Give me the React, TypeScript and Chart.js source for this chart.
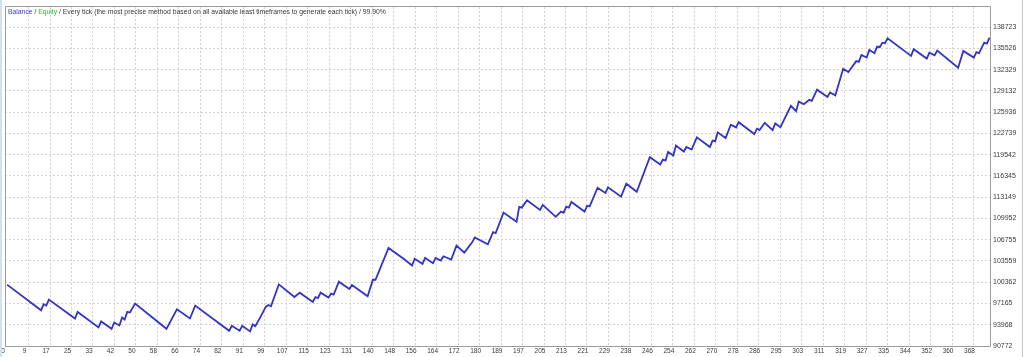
import React, { useEffect, useRef } from "react";
import { Chart, registerables } from "chart.js";

Chart.register(...registerables);

// Trade number (x) and account balance (y) at each visible turning point of the curve
const TRADE_INDEX = [
  0, 13, 14, 15, 16, 26, 27, 35, 36, 40, 41, 43, 44, 45, 46, 47, 49, 61, 65, 70,
  72, 85, 86, 89, 90, 93, 94, 95, 97, 99, 100, 101, 104, 110, 112, 117, 118, 119, 120, 123,
  124, 125, 127, 131, 132, 138, 140, 141, 146, 152, 155, 156, 159, 160, 163, 164, 166, 167, 170, 172,
  175, 178, 179, 184, 186, 187, 190, 195, 196, 197, 199, 204, 205, 210, 212, 213, 214, 215, 216, 221,
  222, 223, 226, 229, 230, 235, 237, 241, 246, 250, 251, 252, 253, 255, 256, 259, 260, 262, 264, 269,
  270, 271, 272, 275, 277, 279, 280, 286, 287, 288, 290, 293, 294, 296, 300, 302, 303, 305, 307, 308,
  310, 314, 315, 317, 320, 322, 325, 326, 327, 329, 330, 332, 333, 334, 335, 336, 337, 346, 347, 352,
  353, 355, 356, 364, 366, 370, 371, 372, 374, 375, 376,
];

const BALANCE = [
  100000, 96150, 97046, 96851, 97748, 94910, 95895, 93565, 94462, 93356, 94312, 93864, 95059, 94761, 95895, 95806, 97150, 93356, 96299, 94910,
  96851, 93057, 93805, 93057, 93805, 92968, 94013, 93760, 95149, 96643, 96942, 96747, 100034, 98136, 98794, 97389, 98136, 97987, 98794, 98046,
  98644, 98495, 100437, 99331, 99929, 98241, 100736, 100736, 105515, 103813, 102872, 103873, 103125, 104021, 103215, 104021, 103618, 104261, 103768, 105859,
  104814, 106352, 107099, 106053, 107906, 107756, 110833, 109445, 111685, 111580, 112686, 111236, 111984, 110191, 110983, 110789, 111730, 111580, 112432, 110983,
  111834, 111789, 114568, 113776, 114627, 113224, 115165, 113970, 119154, 118063, 118810, 118661, 119945, 119407, 120901, 120005, 120692, 120304, 122141, 120692,
  121648, 121543, 122888, 122036, 124038, 123635, 124426, 122634, 123440, 123231, 124337, 123231, 124233, 123680, 126876, 126069, 127518, 127115, 127773, 127624,
  129311, 128220, 128907, 128459, 132448, 131955, 133600, 133494, 134540, 134137, 135288, 134795, 135782, 135691, 136377, 136288, 137034, 134390, 135390, 133986,
  134882, 134494, 135182, 132597, 135137, 134137, 134945, 134795, 136377, 136228, 137124,
];

const X_TICK_LABELS = [
  "0", "9", "17", "25", "33", "42", "50", "58", "66", "74", "82", "91", "99", "107", "115", "123",
  "131", "140", "148", "156", "164", "172", "180", "189", "197", "205", "213", "221", "229", "238",
  "246", "254", "262", "270", "278", "286", "295", "303", "311", "319", "327", "335", "344", "352",
  "360", "368",
];

const Y_TICK_VALUES = [
  90772, 93968, 97165, 100362, 103559, 106755, 109952, 113149, 116345, 119542, 122739, 125936,
  129132, 132329, 135526, 138723,
];

const X_MIN = -0.8;
const X_MAX = 376.2;
const X_GRID_STEP = 8.22;
const Y_MIN = 90772;
const Y_MAX = 141711;

const framePlugin = {
  id: "frame",
  afterDraw(chart: any) {
    const { ctx, chartArea } = chart;
    const l = Math.round(chartArea.left) + 0.5;
    const t = Math.round(chartArea.top) - 0.5;
    const r = Math.round(chartArea.right) + 0.5;
    const b = Math.round(chartArea.bottom) + 0.5;
    ctx.save();
    ctx.strokeStyle = "#9c9c9c";
    ctx.lineWidth = 1;
    ctx.beginPath();
    ctx.moveTo(l, t);
    ctx.lineTo(r, t);
    ctx.lineTo(r, b);
    ctx.lineTo(l, b);
    ctx.closePath();
    ctx.stroke();
    ctx.restore();
  },
};

export default function App() {
  const canvasRef = useRef<HTMLCanvasElement | null>(null);

  useEffect(() => {
    document.body.style.margin = "0";
    const canvas = canvasRef.current;
    if (!canvas) return;
    const points = TRADE_INDEX.map((x, i) => ({ x, y: BALANCE[i] }));
    const chart = new Chart(canvas, {
      type: "line",
      data: {
        datasets: [
          {
            label: "Balance",
            data: points,
            borderColor: "#3333c4",
            borderWidth: 1.8,
            pointRadius: 0,
            tension: 0,
            fill: false,
          },
        ],
      },
      options: {
        animation: false,
        responsive: false,
        devicePixelRatio: 1,
        parsing: false as any,
        layout: { padding: { left: 5, top: 5, right: 0, bottom: 0 } },
        plugins: {
          legend: { display: false },
          title: { display: false },
          tooltip: { enabled: false },
        },
        scales: {
          x: {
            type: "linear",
            min: X_MIN,
            max: X_MAX,
            afterBuildTicks: (scale: any) => {
              scale.ticks = X_TICK_LABELS.map((_, k) => ({ value: k * X_GRID_STEP }));
            },
            afterFit: (scale: any) => {
              scale.height = 11;
            },
            grid: {
              color: (c: any) => (c.index === 0 ? "rgba(0,0,0,0)" : "#d2d2d2"),
              lineWidth: 1,
              drawTicks: false,
            },
            border: { display: false, dash: [2, 2] },
            ticks: {
              autoSkip: false,
              maxRotation: 0,
              minRotation: 0,
              padding: 1,
              labelOffset: -4,
              color: "#3a3a3a",
              font: { family: "'Liberation Sans', Arial, sans-serif", size: 6.5 },
              callback: (_v: any, i: number) => X_TICK_LABELS[i] ?? "",
            },
          },
          y: {
            type: "linear",
            position: "right",
            min: Y_MIN,
            max: Y_MAX,
            afterBuildTicks: (scale: any) => {
              scale.ticks = Y_TICK_VALUES.map((v) => ({ value: v }));
            },
            afterFit: (scale: any) => {
              scale.width = 34;
            },
            grid: {
              color: "#d2d2d2",
              lineWidth: 1,
              drawTicks: false,
            },
            border: { display: false, dash: [2, 2] },
            ticks: {
              padding: 3,
              color: "#3a3a3a",
              font: { family: "'Liberation Sans', Arial, sans-serif", size: 7 },
              callback: (v: any) => String(v),
            },
          },
        },
      },
      plugins: [framePlugin],
    });
    return () => chart.destroy();
  }, []);

  return (
    <div style={{ position: "relative", width: 1024, height: 357, background: "#ffffff", overflow: "hidden" }}>
      <canvas ref={canvasRef} width={1024} height={357} style={{ display: "block", width: 1024, height: 357 }} />
      <div style={{ position: "absolute", left: 0, top: 0, width: 2, height: 357, background: "#d6e0ec" }} />
      <div style={{ position: "absolute", left: 1022, top: 0, width: 1, height: 357, background: "#c4c4c4" }} />
      <div
        style={{
          position: "absolute",
          left: 8,
          top: 6,
          fontFamily: "'Liberation Sans', Arial, sans-serif",
          fontSize: 6.8,
          lineHeight: "11px",
          color: "#3a3a3a",
          whiteSpace: "nowrap",
        }}
      >
        <span style={{ color: "#3c3cd2" }}>Balance</span>
        {" / "}
        <span style={{ color: "#30b830" }}>Equity</span>
        {" / Every tick (the most precise method based on all available least timeframes to generate each tick) / 99.90%"}
      </div>
    </div>
  );
}
